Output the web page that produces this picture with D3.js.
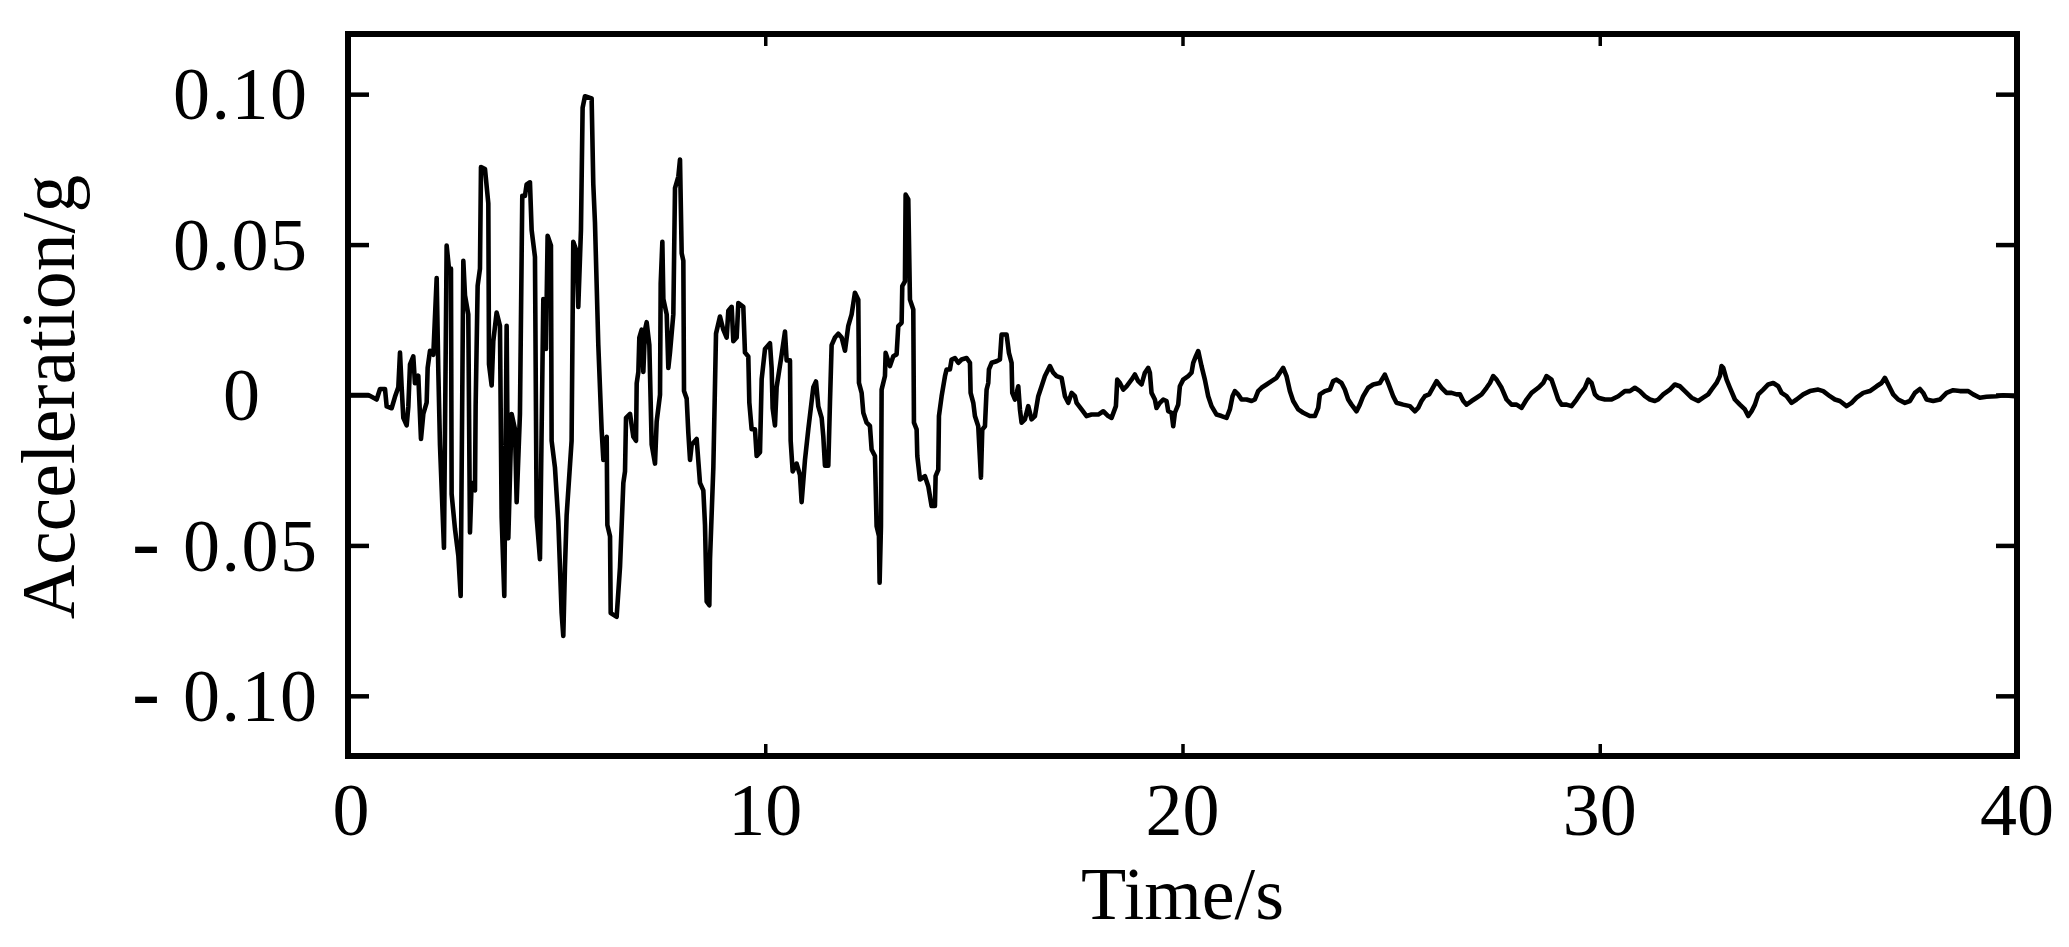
<!DOCTYPE html>
<html><head><meta charset="utf-8">
<script src="https://cdn.jsdelivr.net/npm/d3@7"></script>
<style>html,body{margin:0;padding:0;background:#fff;} svg{display:block;}</style>
</head><body>
<svg id="chart" width="2069" height="947"></svg>
<script>
// ---------------- data ----------------
const xTicks = [0, 10, 20, 30, 40];
const yTicks = [-0.10, -0.05, 0, 0.05, 0.10];
const xTickLabels = ["0", "10", "20", "30", "40"];
const yTickLabels = ["0.10", "0.05", "0", "0.05", "0.10"]; // magnitude text; sign drawn separately
const xTitle = "Time/s";
const yTitle = "Acceleration/g";

// [time (s), acceleration (g)] read from the record
const strongPhaseA = [
 [0,0],[0.088,0],[0.487,0],[0.567,-0.0006],[0.687,-0.0015],[0.767,0.0020],[0.887,0.0020],[0.927,-0.0038],
 [1.046,-0.0044],[1.126,-0.0006],[1.206,0.0026],[1.246,0.0141],[1.286,0.0026],[1.326,-0.0076],[1.406,-0.0101],
 [1.446,-0.0038],[1.486,0.0102],[1.565,0.0128],[1.605,0.0039],[1.685,0.0064],[1.749,-0.0146],[1.805,-0.0063],
 [1.885,-0.0025],[1.909,0.0090],[1.965,0.0147],[2.045,0.0134],[2.125,0.0389],[2.165,0.0077],[2.204,-0.0165],
 [2.300,-0.0508],[2.364,0.0497],[2.420,0.0420],[2.468,0.0420],[2.484,-0.0330],[2.564,-0.0445],[2.644,-0.0534],
 [2.700,-0.0668],[2.764,0.0446],[2.804,0.0331],[2.883,0.0268],[2.923,-0.0457],[2.963,-0.0292],[3.043,-0.0317],
 [3.059,-0.0038],[3.107,0.0363],[3.163,0.0420],[3.187,0.0758],[3.283,0.0751],[3.363,0.0637],[3.379,0.0102],
 [3.443,0.0032],[3.482,0.0179],[3.562,0.0274],[3.642,0.0230],[3.682,-0.0406],[3.746,-0.0668],[3.802,0.0230],
 [3.842,-0.0476],[3.922,-0.0063],[4.002,-0.0114],[4.042,-0.0356],[4.121,-0.0063],[4.177,0.0662],[4.241,0.0662],
 [4.281,0.0700],[4.361,0.0707],[4.401,0.0548],[4.481,0.0459],[4.521,-0.0406],[4.601,-0.0546],[4.681,0.0319],
 [4.744,0.0153],[4.784,0.0529],[4.864,0.0497],[4.880,-0.0152],[4.960,-0.0241],[5.040,-0.0419],[5.120,-0.0725],
 [5.160,-0.0801],[5.200,-0.0572],[5.240,-0.0400],[5.359,-0.0152],[5.399,0.0509],[5.479,0.0478],[5.519,0.0293],
 [5.583,0.0548],[5.623,0.0955],[5.679,0.0993],[5.839,0.0986],[5.879,0.0700],[5.919,0.0573],[5.999,0.0166],
 [6.078,-0.0114]
];
const strongPhaseB = [
 [6.120,-0.0216],[6.200,-0.0139],[6.216,-0.0432],[6.280,-0.0470],[6.296,-0.0725],[6.439,-0.0737],[6.519,-0.0572],
 [6.599,-0.0292],[6.639,-0.0254],[6.663,-0.0076],[6.759,-0.0063],[6.839,-0.0139],[6.903,-0.0152],[6.919,0.0039],
 [6.959,0.0077],[6.982,0.0191],[7.038,0.0217],[7.078,0.0077],[7.118,0.0217],[7.158,0.0242],[7.222,0.0166],
 [7.278,-0.0165],[7.358,-0.0228],[7.398,-0.0088],[7.478,0.0001],[7.494,0.0370],[7.534,0.0509],[7.558,0.0319],
 [7.638,0.0268],[7.677,0.0090],[7.717,0.0141],[7.797,0.0268],[7.837,0.0688],[7.917,0.0726],[7.957,0.0783],
 [7.997,0.0471],[8.037,0.0446],[8.053,0.0013],[8.117,-0.0012],[8.157,-0.0127],[8.197,-0.0216],[8.237,-0.0165],
 [8.356,-0.0146],[8.436,-0.0292],[8.516,-0.0317],[8.556,-0.0432],[8.596,-0.0686],[8.660,-0.0699],[8.676,-0.0546],
 [8.756,-0.0241],[8.820,0.0204],[8.915,0.0261],[8.995,0.0217],[9.075,0.0191],[9.115,0.0280],[9.195,0.0293],
 [9.235,0.0179],[9.315,0.0191],[9.355,0.0306],[9.474,0.0293],[9.514,0.0141],[9.594,0.0128],[9.618,-0.0025],
 [9.674,-0.0114],[9.754,-0.0114],[9.794,-0.0203],[9.874,-0.0190],[9.914,0.0052],[9.994,0.0153],[10.113,0.0172],
 [10.153,0.0090],[10.177,-0.0044],[10.233,-0.0101],[10.273,0.0026],[10.393,0.0134],[10.473,0.0211],[10.513,0.0115],
 [10.593,0.0115],[10.609,-0.0152],[10.657,-0.0254],[10.752,-0.0228],[10.832,-0.0266],[10.872,-0.0356],[10.952,-0.0216],
 [11.032,-0.0114],[11.152,0.0026],[11.216,0.0045],[11.272,-0.0038],[11.352,-0.0076],[11.392,-0.0139],[11.431,-0.0235],
 [11.511,-0.0235],[11.551,-0.0025],[11.591,0.0166],[11.671,0.0191],[11.751,0.0204],[11.831,0.0191],[11.911,0.0147],
 [11.990,0.0230],[12.070,0.0268],[12.150,0.0340]
];
const decayPhase = [
 [12.230,0.0317],[12.246,0.0040],[12.310,0.0007],[12.350,-0.0059],[12.430,-0.0092],[12.509,-0.0103],[12.549,-0.0181],
 [12.629,-0.0203],[12.669,-0.0436],[12.725,-0.0469],[12.741,-0.0624],[12.773,-0.0436],[12.789,0.0018],[12.869,0.0063],
 [12.885,0.0140],[12.989,0.0096],[13.069,0.0129],[13.148,0.0135],[13.188,0.0229],[13.268,0.0240],[13.284,0.0362],
 [13.348,0.0378],[13.364,0.0666],[13.428,0.0650],[13.468,0.0317],[13.548,0.0284],[13.564,-0.0092],[13.628,-0.0114],
 [13.644,-0.0203],[13.708,-0.0281],[13.827,-0.0270],[13.907,-0.0303],[13.987,-0.0369],[14.067,-0.0369],[14.083,-0.0270],
 [14.147,-0.0248],[14.163,-0.0070],[14.227,-0.0004],[14.307,0.0062],[14.346,0.0085],[14.426,0.0085],[14.466,0.0118],
 [14.546,0.0123],[14.626,0.0107],[14.706,0.0118],[14.826,0.0123],[14.906,0.0107],[14.922,0.0007],[14.986,-0.0026],
 [15.025,-0.0070],[15.105,-0.0104],[15.169,-0.0275],[15.201,-0.0115],[15.265,-0.0104],[15.305,0.0018],[15.345,0.0040],
 [15.361,0.0085],[15.425,0.0107],[15.545,0.0112],[15.624,0.0118],[15.664,0.0201],[15.784,0.0201],[15.840,0.0140],
 [15.904,0.0107],[15.920,0.0007],[15.984,-0.0015],[16.064,0.0029],[16.104,-0.0048],[16.144,-0.0092],[16.223,-0.0081],
 [16.303,-0.0037],[16.383,-0.0081],[16.463,-0.0070],[16.543,-0.0004],[16.623,0.0029],[16.703,0.0063],[16.823,0.0096],
 [16.902,0.0074],[16.982,0.0063],[17.102,0.0057],[17.182,-0.0004],[17.262,-0.0026],[17.342,0.0007],[17.422,-0.0004],
 [17.462,-0.0026],[17.581,-0.0048],[17.701,-0.0070],[17.821,-0.0065],[17.981,-0.0065],[18.101,-0.0054],[18.220,-0.0070],
 [18.300,-0.0076]
];
const codaPhaseA = [
 [18.404,-0.0037],[18.436,0.0051],[18.500,0.0040],[18.579,0.0018],[18.659,0.0029],[18.779,0.0051],[18.859,0.0068],
 [18.939,0.0046],[19.019,0.0035],[19.099,0.0074],[19.179,0.0090],[19.218,0.0074],[19.258,0.0007],[19.338,-0.0015],
 [19.378,-0.0043],[19.458,-0.0026],[19.538,-0.0015],[19.618,-0.0020],[19.658,-0.0054],[19.738,-0.0059],[19.778,-0.0104],
 [19.818,-0.0059],[19.897,-0.0032],[19.937,0.0029],[20.017,0.0051],[20.137,0.0063],[20.217,0.0074],[20.257,0.0107],
 [20.321,0.0129],[20.377,0.0146],[20.456,0.0096],[20.536,0.0051],[20.616,-0.0004],[20.696,-0.0037],[20.816,-0.0065],
 [20.936,-0.0070],[21.056,-0.0076],[21.135,-0.0048],[21.199,-0.0004],[21.255,0.0013],[21.335,0.0002],[21.415,-0.0015],
 [21.535,-0.0015],[21.655,-0.0020],[21.734,-0.0015],[21.814,0.0013],[21.894,0.0024],[22.014,0.0035],[22.134,0.0046],
 [22.254,0.0057],[22.333,0.0074],[22.413,0.0090],[22.493,0.0063],[22.573,0.0013],[22.653,-0.0020],[22.773,-0.0048],
 [22.893,-0.0059],[23.052,-0.0070],[23.172,-0.0070],[23.252,-0.0043],[23.292,0.0002],[23.412,0.0013],[23.532,0.0018],
 [23.611,0.0046],[23.691,0.0051],[23.811,0.0040],[23.891,0.0018],[23.971,-0.0015],[24.051,-0.0032],[24.171,-0.0054],
 [24.250,-0.0032],[24.330,-0.0004],[24.450,0.0024],[24.570,0.0035],[24.730,0.0040],[24.849,0.0068],[24.929,0.0040],
 [25.049,-0.0004],[25.129,-0.0026],[25.289,-0.0032],[25.449,-0.0037],[25.568,-0.0054],[25.648,-0.0043],[25.728,-0.0020],
 [25.808,-0.0004],[25.912,0.0002]
];
const codaPhaseB = [
 [26.090,0.0046],[26.209,0.0024],[26.329,0.0007],[26.449,0.0007],[26.569,0.0002],[26.649,0.0002],[26.729,-0.0020],
 [26.808,-0.0032],[26.928,-0.0020],[27.048,-0.0009],[27.168,0.0002],[27.288,0.0024],[27.368,0.0040],[27.447,0.0063],
 [27.527,0.0051],[27.647,0.0024],[27.767,-0.0015],[27.887,-0.0032],[28.006,-0.0032],[28.126,-0.0043],[28.246,-0.0015],
 [28.366,0.0007],[28.526,0.0024],[28.645,0.0040],[28.725,0.0063],[28.845,0.0051],[28.925,0.0018],[29.005,-0.0015],
 [29.085,-0.0032],[29.205,-0.0032],[29.324,-0.0037],[29.444,-0.0015],[29.524,0.0002],[29.644,0.0024],[29.724,0.0051],
 [29.804,0.0040],[29.884,0.0002],[29.963,-0.0009],[30.123,-0.0015],[30.283,-0.0015],[30.443,-0.0004],[30.602,0.0013],
 [30.722,0.0013],[30.842,0.0024],[30.962,0.0013],[31.082,-0.0004],[31.201,-0.0015],[31.321,-0.0020],[31.401,-0.0015],
 [31.521,0.0002],[31.681,0.0018],[31.800,0.0035],[31.920,0.0029],[32.040,0.0013],[32.200,-0.0009],[32.360,-0.0020],
 [32.479,-0.0009],[32.599,0.0002],[32.679,0.0018],[32.799,0.0040],[32.879,0.0063],[32.919,0.0096]
];
const codaPhaseC = [
 [32.960,0.0090],[33.040,0.0051],[33.120,0.0024],[33.239,-0.0015],[33.359,-0.0032],[33.479,-0.0048],[33.559,-0.0070],
 [33.639,-0.0054],[33.719,-0.0032],[33.799,0.0002],[33.918,0.0018],[34.038,0.0035],[34.158,0.0040],[34.278,0.0029],
 [34.358,0.0007],[34.477,-0.0004],[34.597,-0.0026],[34.717,-0.0015],[34.877,0.0002],[35.037,0.0013],[35.236,0.0018],
 [35.356,0.0013],[35.516,-0.0004],[35.636,-0.0015],[35.755,-0.0020],[35.915,-0.0037],[36.035,-0.0026],[36.155,-0.0009],
 [36.315,0.0007],[36.474,0.0013],[36.634,0.0029],[36.754,0.0040],[36.834,0.0057],[36.914,0.0035],[37.033,0.0002],
 [37.153,-0.0015],[37.313,-0.0026],[37.433,-0.0020],[37.553,0.0007],[37.672,0.0020],[37.752,0.0007],[37.832,-0.0015],
 [37.992,-0.0020],[38.152,-0.0015],[38.311,0.0007],[38.471,0.0016],[38.631,0.0013],[38.831,0.0013],[38.950,0.0002],
 [39.110,-0.0009],[39.270,-0.0006],[39.510,-0.0004],[39.669,-0.0001],[39.949,-0.0004],[40,0]
];
const record = strongPhaseA.concat(strongPhaseB, decayPhase, codaPhaseA, codaPhaseB, codaPhaseC);

// ---------------- drawing ----------------
const box = {left: 348, right: 2017, top: 34, bottom: 756};
const x = d3.scaleLinear().domain([0, 40]).range([box.left, box.right]);
const y = d3.scaleLinear().domain([-0.12, 0.12]).range([box.bottom, box.top]);
const svg = d3.select("#chart");
const serif = "'Liberation Serif','Times New Roman',Times,serif";

// trace
svg.append("path")
  .datum(record)
  .attr("fill", "none")
  .attr("stroke", "#000")
  .attr("stroke-width", 4.6)
  .attr("stroke-linejoin", "round")
  .attr("d", d3.line().x(d => x(d[0])).y(d => y(d[1])));

// inward ticks
function styleTicks(g, w) {
  g.select(".domain").remove();
  g.selectAll(".tick line").attr("stroke", "#000").attr("stroke-width", w);
  g.selectAll(".tick text").remove();
}
svg.append("g").attr("transform", `translate(${box.left},0)`)
  .call(d3.axisLeft(y).tickValues(yTicks).tickSize(-21).tickFormat(""))
  .call(g => styleTicks(g, 4.5));
svg.append("g").attr("transform", `translate(${box.right},0)`)
  .call(d3.axisRight(y).tickValues(yTicks).tickSize(-21).tickFormat(""))
  .call(g => styleTicks(g, 4.5));
svg.append("g").attr("transform", `translate(0,${box.bottom})`)
  .call(d3.axisBottom(x).tickValues(xTicks.slice(1, -1)).tickSize(-12).tickFormat(""))
  .call(g => styleTicks(g, 3.5));
svg.append("g").attr("transform", `translate(0,${box.top})`)
  .call(d3.axisTop(x).tickValues(xTicks.slice(1, -1)).tickSize(-12).tickFormat(""))
  .call(g => styleTicks(g, 3.5));

// frame
svg.append("rect")
  .attr("x", box.left).attr("y", box.top)
  .attr("width", box.right - box.left).attr("height", box.bottom - box.top)
  .attr("fill", "none").attr("stroke", "#000").attr("stroke-width", 6);

// y tick labels
const yLab = svg.append("g").attr("font-family", serif).attr("font-size", 74).attr("fill", "#000");
yTicks.forEach((v, i) => {
  const endX = v < 0 ? 318.5 : (v === 0 ? 261.5 : 308.5);
  yLab.append("text")
    .attr("x", endX).attr("y", y(v)).attr("dy", "0.34em")
    .attr("text-anchor", "end")
    .attr("letter-spacing", 1.5)
    .text(yTickLabels[i]);
  if (v < 0) {
    yLab.append("text")
      .attr("x", 132).attr("y", y(v)).attr("dy", "0.29em")
      .attr("font-size", 84)
      .attr("text-anchor", "start")
      .text("-");
  }
});

// x tick labels
const xLab = svg.append("g").attr("font-family", serif).attr("font-size", 74).attr("fill", "#000");
xTicks.forEach((v, i) => {
  xLab.append("text")
    .attr("x", x(v) + (v === 0 ? 3 : 0)).attr("y", 835)
    .attr("text-anchor", "middle")
    .text(xTickLabels[i]);
});

// axis titles
svg.append("text")
  .attr("x", (box.left + box.right) / 2).attr("y", 919)
  .attr("text-anchor", "middle")
  .attr("font-family", serif).attr("font-size", 74)
  .text(xTitle);
svg.append("text")
  .attr("transform", `translate(74,${(box.top + box.bottom) / 2 + 2}) rotate(-90)`)
  .attr("text-anchor", "middle")
  .attr("font-family", serif).attr("font-size", 75.5)
  .text(yTitle);
</script>
</body></html>
